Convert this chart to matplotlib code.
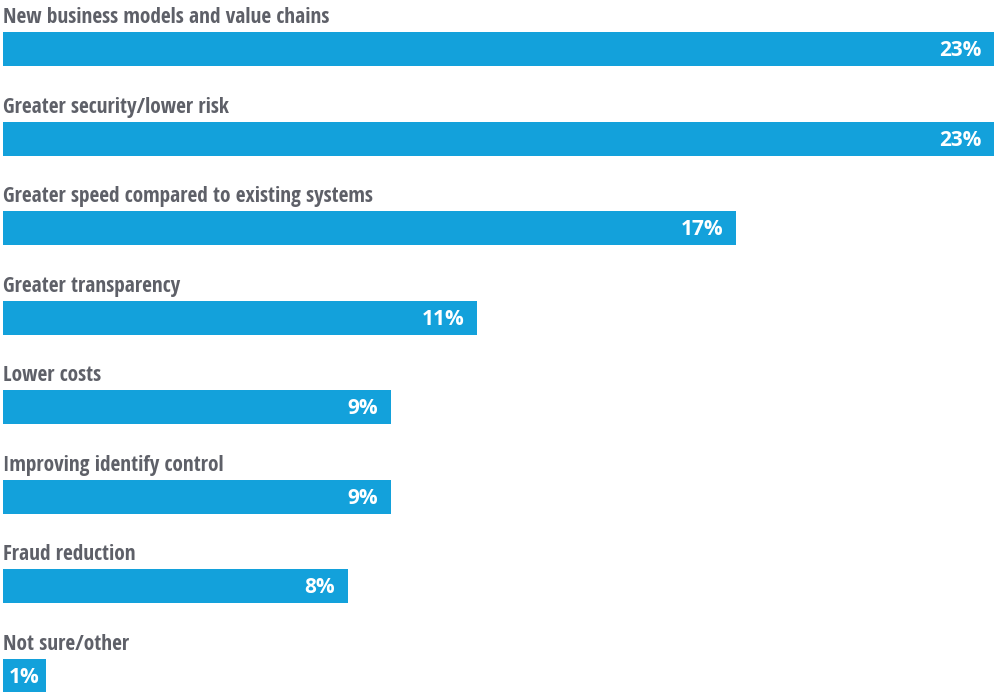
import matplotlib
matplotlib.use("Agg")
import matplotlib.pyplot as plt

categories = [
    "New business models and value chains",
    "Greater security/lower risk",
    "Greater speed compared to existing systems",
    "Greater transparency",
    "Lower costs",
    "Improving identify control",
    "Fraud reduction",
    "Not sure/other",
]
values = [23, 23, 17, 11, 9, 9, 8, 1]
value_labels = ["23%", "23%", "17%", "11%", "9%", "9%", "8%", "1%"]

BAR = "#13a1db"
GRAY = "#5e6068"

W, H, DPI = 995, 692, 100
fig = plt.figure(figsize=(W / DPI, H / DPI), dpi=DPI)
ax = fig.add_axes([3 / W, 0, 1 - 3 / W, 1])

step = 89.5
first_center = 49
top = -first_center / step
bottom = (H - first_center) / step
ax.set_ylim(bottom, top)
ax.set_xlim(0, 23)
ax.axis("off")

bar_h = 34 / step
ys = list(range(len(values)))
ax.barh(ys, values, height=bar_h, color=BAR, edgecolor="none")

px = 0.72  # points per pixel at 100 dpi
for y, cat, v, lab in zip(ys, categories, values, value_labels):
    ax.annotate(cat, xy=(0, y - bar_h / 2), xytext=(0, 9 * px), textcoords="offset points",
                ha="left", va="baseline", fontsize=15.4, fontweight="bold",
                family="Open Sans Condensed", color=GRAY)
    if v >= 3:
        ax.annotate(lab, xy=(v, y), xytext=(-13 * px, -1.5 * px), textcoords="offset points",
                    ha="right", va="center", fontsize=15, fontweight="bold",
                    family="Open Sans", color="white")
    else:
        ax.annotate(lab, xy=(v / 2, y), xytext=(0, -1.5 * px), textcoords="offset points",
                    ha="center", va="center", fontsize=15, fontweight="bold",
                    family="Open Sans", color="white")

fig.savefig("out.png", dpi=DPI)
